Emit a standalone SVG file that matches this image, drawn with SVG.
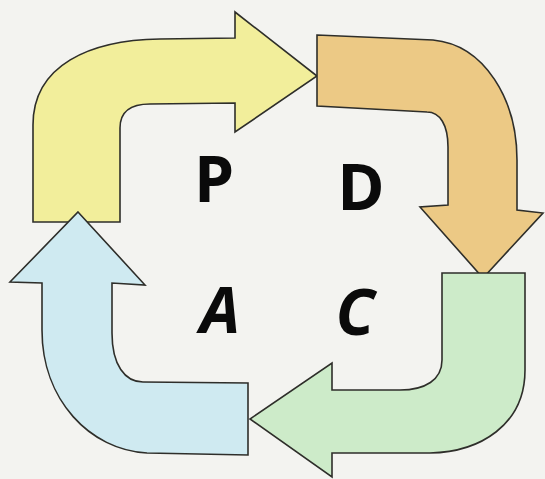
<svg xmlns="http://www.w3.org/2000/svg" width="545" height="479" viewBox="0 0 545 479">
<style>
.arrow{stroke:#2e2e2a;stroke-width:1.6;stroke-linejoin:miter}
.lbl{font-family:"Open Sans","DejaVu Sans",sans-serif;font-weight:bold;font-size:64px;fill:#0a0a0a;text-anchor:middle}
</style>
<rect width="545" height="479" fill="#f3f3f0"/>
<g id="connectors"/>
<g id="plan">
<path class="arrow" fill="#f2ee9b" d="M33,222 L33,125 C33,65 90,40 160,39 L235,38 L235,12 L317,76 L235,132 L235,103 L150,104 C130,104 120,112 120,128 L120,222 Z"/>
<text class="lbl" x="214" y="202">P</text>
</g>
<g id="do">
<path class="arrow" fill="#ecc985" d="M317,35 L433,40 C485,45 517,100 517,160 L517,210 L543,213 L483,278 L420,207 L448,205 L448,147 C448,125 440,112 427,112 L317,106 Z"/>
<text class="lbl" x="361" y="210">D</text>
</g>
<g id="check">
<path class="arrow" fill="#cdebc9" d="M442,273 L525,273 L525,370 C525,425 480,452 430,453 L332,453 L332,477 L250,419 L332,363 L332,390 L400,390 C425,390 442,380 442,360 Z"/>
<text class="lbl" x="355" y="335" font-style="italic">C</text>
</g>
<g id="act">
<path class="arrow" fill="#cfeaf1" d="M78,212 L145,285 L112,283 L112,333 C112,365 125,382 143,382 L248,383 L248,455 L147,453 C90,450 42,400 42,330 L42,283 L10,282 Z"/>
<text class="lbl" x="220" y="333" font-style="italic">A</text>
</g>
</svg>
